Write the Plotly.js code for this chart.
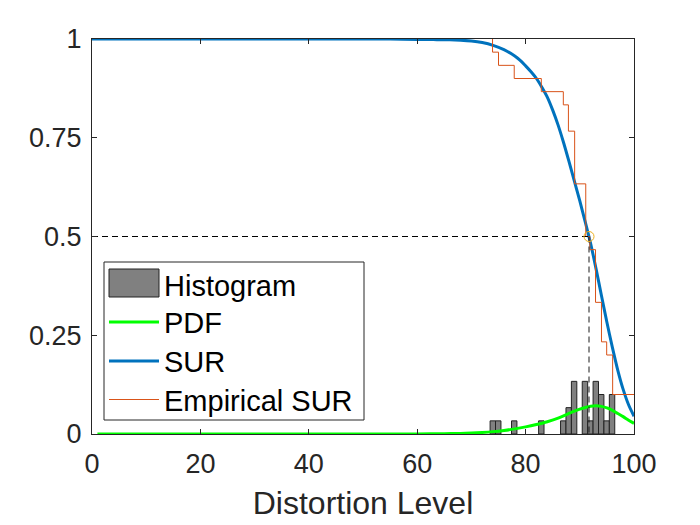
<!DOCTYPE html>
<html>
<head>
<meta charset="utf-8">
<script src="https://cdn.plot.ly/plotly-3.0.1.min.js"></script>
<style>html,body{margin:0;padding:0;background:#fff;}#chart{width:700px;height:525px;}</style>
</head>
<body>
<div id="chart"></div>
<script>
// Histogram bins (centres) and heights
var histCenters = [73.95, 74.95, 77.9, 82.9, 86.95, 87.95, 88.95, 90.95, 91.95, 92.95, 93.95, 94.95, 95.95];
var histHeights = [0.0333, 0.0333, 0.0333, 0.0333, 0.0333, 0.0667, 0.1333, 0.1333, 0.0333, 0.1333, 0.1, 0.0333, 0.1];

// PDF curve
var pdfX = [1, 10, 20, 30, 40, 50, 55, 60, 65, 68, 70, 72, 74, 76, 78, 80, 82, 84, 86, 88, 89, 90, 91, 92, 93, 94, 95, 96, 97, 98, 99, 100];
var pdfY = [0, 0, 0, 0, 0, 0, 0, 0.0002, 0.0008, 0.0015, 0.0025, 0.004, 0.006, 0.009, 0.013, 0.018, 0.024, 0.031, 0.04, 0.052, 0.058, 0.063, 0.067, 0.0705, 0.0715, 0.07, 0.066, 0.06, 0.052, 0.044, 0.035, 0.027];

// SUR curve
var surX = [0, 10, 20, 30, 40, 50, 55, 60, 62, 64, 66, 68, 70, 72, 74, 76, 78, 79, 80, 81, 82, 83, 84, 85, 86, 87, 88, 89, 90, 91, 92, 93, 94, 95, 96, 97, 98, 99, 100];
var surY = [1, 1, 1, 1, 1, 1, 1, 0.999, 0.999, 0.998, 0.998, 0.997, 0.995, 0.991, 0.984, 0.973, 0.957, 0.946, 0.932, 0.917, 0.9, 0.878, 0.853, 0.82, 0.782, 0.738, 0.69, 0.64, 0.59, 0.537, 0.482, 0.418, 0.35, 0.283, 0.22, 0.162, 0.113, 0.074, 0.045];

// Empirical SUR steps
var empX = [73.9, 73.9, 75.0, 77.9, 82.9, 86.96, 87.9, 89.05, 91.1, 91.85, 92.9, 94.0, 94.96, 96.06, 100];
var empY = [1, 0.9667, 0.9333, 0.9, 0.8667, 0.8333, 0.7667, 0.6333, 0.5, 0.4667, 0.3333, 0.2333, 0.2, 0.1, 0.1];

// Median marker
var medianX = [91.7];
var medianY = [0.5];

var xTicks = [0, 20, 40, 60, 80, 100];
var yTicks = [0, 0.25, 0.5, 0.75, 1];
var yTickText = ['0', '0.25', '0.5', '0.75', '1'];

var legendNames = ['Histogram', 'PDF', 'SUR', 'Empirical SUR'];

// plot area in pixels (for legend placement)
var PL = 92, PR = 634, PT = 39, PB = 434;
function px(x) { return (x - PL) / (PR - PL); }
function py(y) { return (PB - y) / (PB - PT); }

var traces = [
  {type: 'bar', x: histCenters, y: histHeights, width: 1.0, name: legendNames[0],
   marker: {color: '#808080', line: {color: '#222222', width: 1}}, hoverinfo: 'skip'},
  {type: 'scatter', mode: 'lines', x: pdfX, y: pdfY, name: legendNames[1], cliponaxis: false,
   line: {color: '#00FF00', width: 3, shape: 'spline', smoothing: 0.8}},
  {type: 'scatter', mode: 'lines', x: surX, y: surY, name: legendNames[2], cliponaxis: false,
   line: {color: '#0072BD', width: 3, shape: 'spline', smoothing: 0.8}},
  {type: 'scatter', mode: 'lines', x: empX, y: empY, name: legendNames[3], cliponaxis: false,
   line: {color: '#D95319', width: 1, shape: 'hv'}},
  {type: 'scatter', mode: 'lines', x: [0, medianX[0]], y: [medianY[0], medianY[0]],
   line: {color: '#000000', width: 1, dash: '6px,4px'}},
  {type: 'scatter', mode: 'lines', x: [medianX[0], medianX[0]], y: [medianY[0], 0],
   line: {color: '#1a1a1a', width: 1, dash: '6px,4px'}},
  {type: 'scatter', mode: 'markers', x: medianX, y: medianY, cliponaxis: false,
   marker: {symbol: 'circle-open', size: 10, color: '#EDB120', line: {width: 1, color: '#EDB120'}}}
];

// custom legend (box, symbols, labels)
var rowY = [286, 323, 362, 401];
var shapes = [
  {type: 'rect', xref: 'paper', yref: 'paper', x0: px(104), x1: px(364), y0: py(262), y1: py(420),
   fillcolor: '#ffffff', line: {color: '#262626', width: 1}, layer: 'above'},
  {type: 'rect', xref: 'paper', yref: 'paper', x0: px(109), x1: px(159), y0: py(269), y1: py(297),
   fillcolor: '#808080', line: {color: '#222222', width: 1}, layer: 'above'},
  {type: 'line', xref: 'paper', yref: 'paper', x0: px(109), x1: px(159), y0: py(322), y1: py(322),
   line: {color: '#00FF00', width: 3}, layer: 'above'},
  {type: 'line', xref: 'paper', yref: 'paper', x0: px(109), x1: px(159), y0: py(361), y1: py(361),
   line: {color: '#0072BD', width: 3}, layer: 'above'},
  {type: 'line', xref: 'paper', yref: 'paper', x0: px(109), x1: px(159), y0: py(399.5), y1: py(399.5),
   line: {color: '#D95319', width: 1}, layer: 'above'}
];
var annotations = legendNames.map(function (n, i) {
  return {xref: 'paper', yref: 'paper', x: px(162), y: py(rowY[i]), xanchor: 'left', yanchor: 'middle',
          text: n, showarrow: false, font: {size: 29, color: '#000000'}};
});

var layout = {
  width: 700, height: 525,
  margin: {l: PL, r: 700 - PR, t: PT, b: 525 - PB},
  paper_bgcolor: '#ffffff', plot_bgcolor: '#ffffff',
  font: {family: 'Liberation Sans, Arial, sans-serif', color: '#262626'},
  showlegend: false,
  barmode: 'overlay',
  shapes: shapes,
  annotations: annotations,
  xaxis: {range: [0, 100], tickvals: xTicks, ticks: 'inside', ticklen: 5, tickcolor: '#262626',
          showline: true, linecolor: '#262626', linewidth: 1, mirror: 'ticks', showgrid: false, zeroline: false,
          tickfont: {size: 27, color: '#262626'}, ticklabelstandoff: 6,
          title: {text: 'Distortion Level', font: {size: 32, color: '#262626'}, standoff: 13}},
  yaxis: {range: [0, 1], tickvals: yTicks, ticktext: yTickText, ticks: 'inside', ticklen: 5, tickcolor: '#262626',
          showline: true, linecolor: '#262626', linewidth: 1, mirror: 'ticks', showgrid: false, zeroline: false,
          tickfont: {size: 27, color: '#262626'}, ticklabelstandoff: 4}
};

Plotly.newPlot('chart', traces, layout, {displayModeBar: false, staticPlot: true});
</script>
</body>
</html>
